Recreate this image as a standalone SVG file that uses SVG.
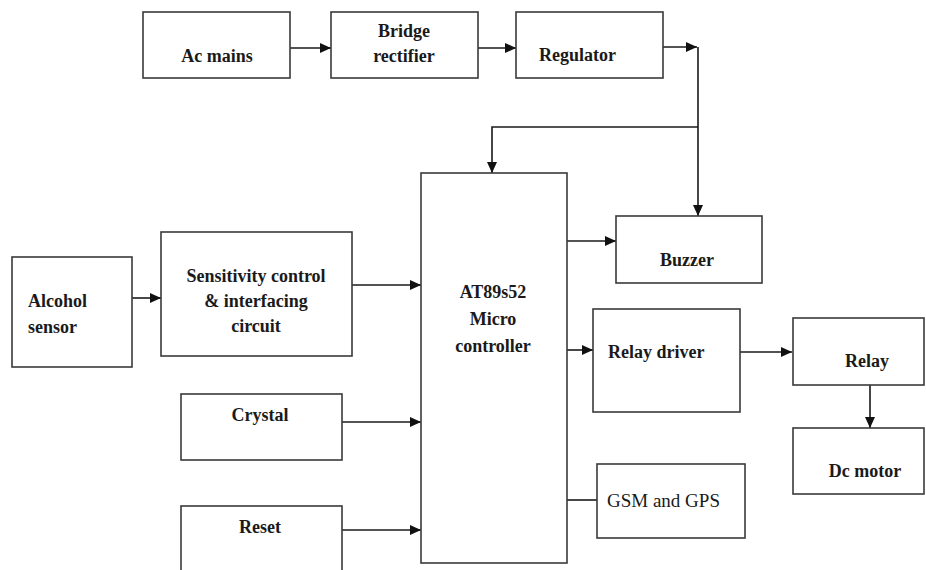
<svg xmlns="http://www.w3.org/2000/svg" width="926" height="570" viewBox="0 0 926 570">
<style>
.box{fill:#fff;stroke:#3a3a3a;stroke-width:1.6}
.t{font-family:"Liberation Serif","Times New Roman",serif;font-weight:bold;font-size:18px;fill:#1a1a1a}
.r{font-family:"Liberation Serif","Times New Roman",serif;font-size:19px;fill:#1a1a1a}
.c{text-anchor:middle}
.ln{fill:none;stroke:#1a1a1a;stroke-width:1.6}
</style>
<defs>
<marker id="ah" markerUnits="userSpaceOnUse" markerWidth="12" markerHeight="10" refX="11" refY="5" orient="auto">
<path d="M0,0 L11,5 L0,10 Z" fill="#111"/>
</marker>
</defs>
<rect width="926" height="570" fill="#fff"/>
<g id="connectors">
<line class="ln" x1="290" y1="48" x2="331" y2="48" marker-end="url(#ah)"/>
<line class="ln" x1="478" y1="48" x2="516" y2="48" marker-end="url(#ah)"/>
<line class="ln" x1="663" y1="47" x2="697" y2="47" marker-end="url(#ah)"/>
<polyline class="ln" points="698,47 698,216" marker-end="url(#ah)"/>
<polyline class="ln" points="698,127 492,127 492,173" marker-end="url(#ah)"/>
<line class="ln" x1="567" y1="241" x2="616" y2="241" marker-end="url(#ah)"/>
<line class="ln" x1="132" y1="298" x2="161" y2="298" marker-end="url(#ah)"/>
<line class="ln" x1="352" y1="285" x2="421" y2="285" marker-end="url(#ah)"/>
<line class="ln" x1="567" y1="350" x2="593" y2="350" marker-end="url(#ah)"/>
<line class="ln" x1="740" y1="352" x2="792" y2="352" marker-end="url(#ah)"/>
<line class="ln" x1="870" y1="385" x2="870" y2="428" marker-end="url(#ah)"/>
<line class="ln" x1="567" y1="500" x2="597" y2="500"/>
<line class="ln" x1="342" y1="422" x2="421" y2="422" marker-end="url(#ah)"/>
<line class="ln" x1="342" y1="530" x2="421" y2="530" marker-end="url(#ah)"/>
</g>
<g id="ac-mains"><rect class="box" x="143" y="12" width="147" height="66"/><text class="t c" x="217" y="62">Ac mains</text></g>
<g id="bridge-rectifier"><rect class="box" x="331" y="12" width="147" height="66"/><text class="t c" x="404" y="37">Bridge</text><text class="t c" x="404" y="62">rectifier</text></g>
<g id="regulator"><rect class="box" x="516" y="12" width="147" height="66"/><text class="t" x="539" y="61">Regulator</text></g>
<g id="microcontroller"><rect class="box" x="421" y="173" width="146" height="390"/><text class="t c" x="493" y="298">AT89s52</text><text class="t c" x="493" y="325">Micro</text><text class="t c" x="493" y="352">controller</text></g>
<g id="buzzer"><rect class="box" x="616" y="216" width="146" height="67"/><text class="t c" x="687" y="266">Buzzer</text></g>
<g id="alcohol-sensor"><rect class="box" x="12" y="257" width="120" height="110"/><text class="t" x="28" y="307">Alcohol</text><text class="t" x="28" y="333">sensor</text></g>
<g id="sensitivity"><rect class="box" x="161" y="232" width="191" height="124"/><text class="t c" x="256" y="282">Sensitivity control</text><text class="t c" x="256" y="307">&amp; interfacing</text><text class="t c" x="256" y="332">circuit</text></g>
<g id="relay-driver"><rect class="box" x="593" y="309" width="147" height="103"/><text class="t" x="608" y="358">Relay driver</text></g>
<g id="relay"><rect class="box" x="793" y="318" width="131" height="67"/><text class="t c" x="867" y="367">Relay</text></g>
<g id="dc-motor"><rect class="box" x="793" y="428" width="131" height="66"/><text class="t c" x="865" y="477">Dc motor</text></g>
<g id="gsm-gps"><rect class="box" x="597" y="464" width="148" height="74"/><text class="r" x="607" y="507">GSM and GPS</text></g>
<g id="crystal"><rect class="box" x="181" y="394" width="161" height="66"/><text class="t c" x="260" y="421">Crystal</text></g>
<g id="reset"><rect class="box" x="181" y="506" width="161" height="80"/><text class="t c" x="260" y="533">Reset</text></g>
</svg>
